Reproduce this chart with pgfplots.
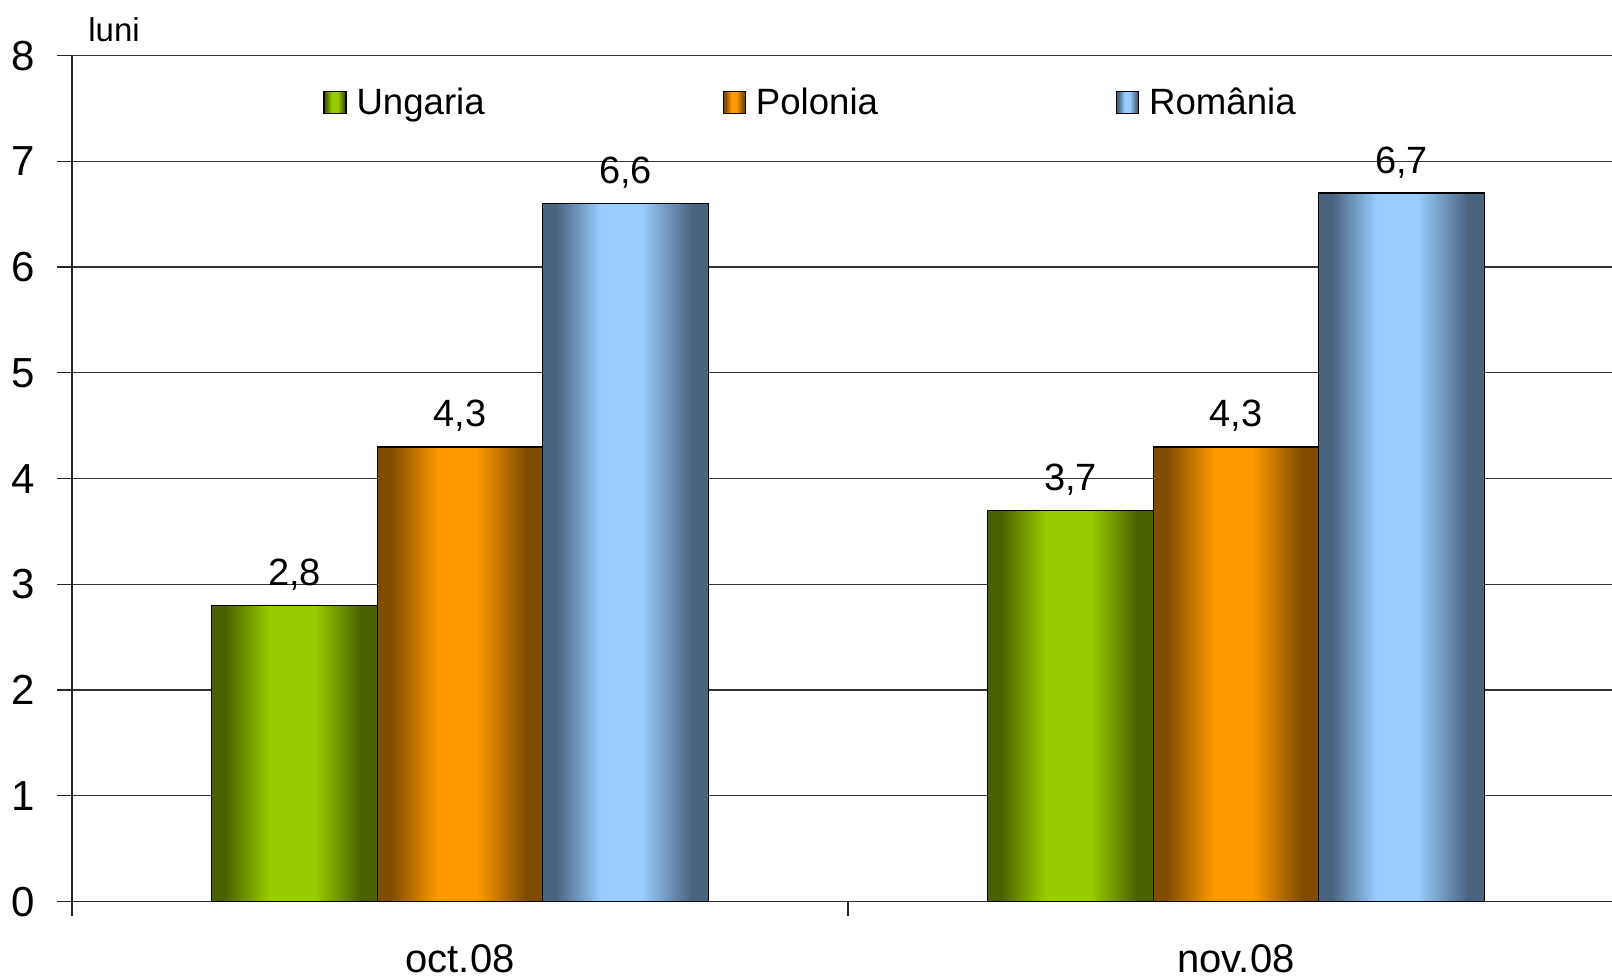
\documentclass[border=0pt]{standalone}
\usepackage{pgfplots}
\pgfplotsset{compat=1.18}
\usepackage{fontspec}
\setmainfont{Liberation Sans}

% bar colours: dark edge / bright centre
\definecolor{gdark}{HTML}{4A6100}
\definecolor{glight}{HTML}{99CC00}
\definecolor{odark}{HTML}{7F4C00}
\definecolor{olight}{HTML}{FF9900}
\definecolor{bdark}{HTML}{4A6480}
\definecolor{blight}{HTML}{99CCFF}

% horizontal "cylinder" shadings; the bar spans 25bp..75bp
\pgfdeclarehorizontalshading{gshade}{100bp}{color(0bp)=(gdark); color(29bp)=(gdark); color(42.5bp)=(glight); color(56bp)=(glight); color(70bp)=(gdark); color(100bp)=(gdark)}
\pgfdeclarehorizontalshading{oshade}{100bp}{color(0bp)=(odark); color(29bp)=(odark); color(43.5bp)=(olight); color(55bp)=(olight); color(70bp)=(odark); color(100bp)=(odark)}
\pgfdeclarehorizontalshading{bshade}{100bp}{color(0bp)=(bdark); color(29bp)=(bdark); color(42.5bp)=(blight); color(55bp)=(blight); color(70bp)=(bdark); color(100bp)=(bdark)}

\pgfplotsset{
  barU/.style={draw=black, line width=0.7pt, shade, shading=gshade, bar shift=-82.75pt},
  barP/.style={draw=black, line width=0.7pt, shade, shading=oshade, bar shift=0pt},
  barR/.style={draw=black, line width=0.7pt, shade, shading=bshade, bar shift=82.75pt},
}

\begin{document}
\begin{tikzpicture}
\begin{axis}[
  at={(36pt,38.7pt)}, anchor=south west,
  scale only axis, width=776pt, height=423pt,
  xmin=-0.5, xmax=1.5, ymin=0, ymax=8,
  ybar, bar width=82.75pt,
  axis lines*=left,
  axis line style={-, line width=0.6pt, black!85},
  ymajorgrids, grid style={black!80, line width=0.6pt},
  ytick={0,1,...,8},
  xtick={0,1}, xticklabels={oct.08, nov.08},
  tick align=outside, major tick length=7.3pt,
  tick style={black!85, line width=0.6pt},
  major x tick style={draw=none},
  extra x ticks={-0.5,0.5,1.5}, extra x tick labels={},
  extra x tick style={grid=none, major x tick style={draw=black!85, line width=0.6pt}},
  /pgf/number format/assume math mode=true,
  /pgf/number format/.cd, use comma, fixed, fixed zerofill, precision=1,
  /pgfplots/.cd,
  yticklabel style={font=\fontsize{21}{24}\selectfont, anchor=east, inner sep=0pt, xshift=-11pt},
  yticklabel={\pgfmathprintnumber[precision=0]{\tick}},
  xticklabel style={font=\fontsize{20}{24}\selectfont, anchor=base, inner sep=0pt, yshift=-28pt},
  nodes near coords,
  every node near coord/.append style={font=\fontsize{19}{22}\selectfont, anchor=base, inner sep=0pt, yshift=10pt, black},
  legend columns=3,
  legend cell align=left,
  legend image code/.code={\path[#1, draw=black, line width=0.6pt] (0pt,-5.5pt) rectangle (11pt,5.5pt);},
  legend style={draw=none, fill=none, at={(rel axis cs:0.1617,0.9445)}, anchor=west,
    inner sep=0pt, font=\fontsize{18.3}{21}\selectfont,
    nodes={inner sep=0pt},
    /tikz/every odd column/.append style={column sep=5pt},
    /tikz/every even column/.append style={column sep=119pt}},
  clip=false,
]
% oct.08
\addplot[barU] coordinates {(0,2.8)};
\addplot[barP] coordinates {(0,4.3)};
\addplot[barR] coordinates {(0,6.6)};
% nov.08
\addplot[barU, forget plot] coordinates {(1,3.7)};
\addplot[barP, forget plot] coordinates {(1,4.3)};
\addplot[barR, forget plot] coordinates {(1,6.7)};
\legend{Ungaria, Polonia, România}
\node[anchor=base west, inner sep=0pt, xshift=8pt, yshift=6.9pt, font=\fontsize{16.5}{20}\selectfont] at (rel axis cs:0,1) {luni};
\end{axis}
\pgfresetboundingbox
\path (0,0) rectangle (806pt,489.5pt);
\end{tikzpicture}
\end{document}
